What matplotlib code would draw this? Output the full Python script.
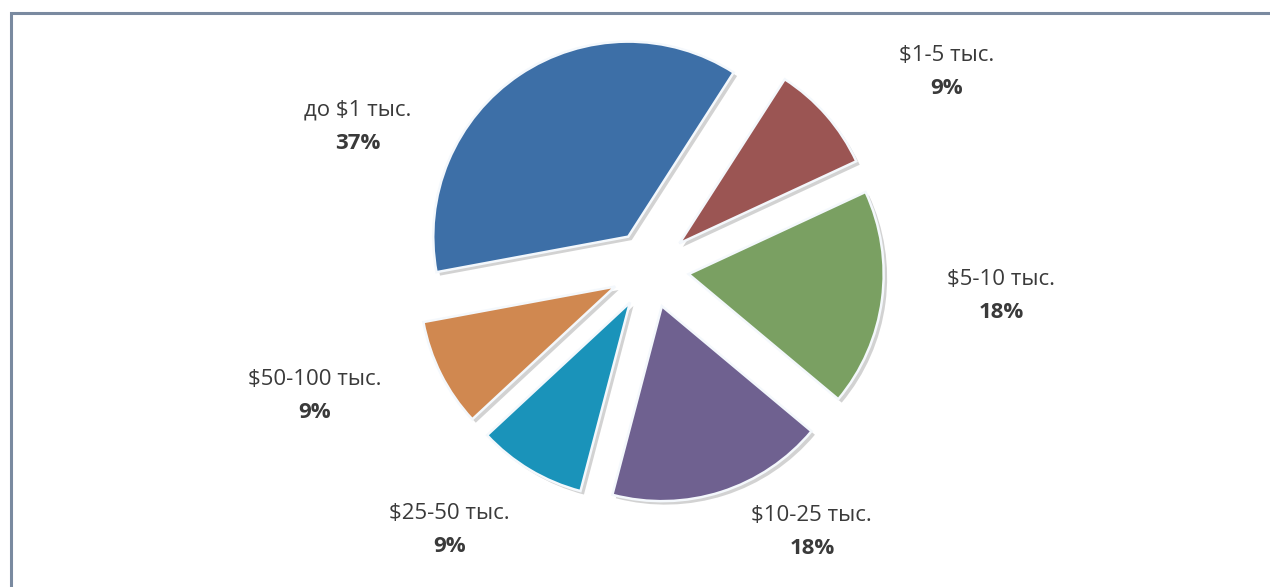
import matplotlib
matplotlib.use("Agg")
import matplotlib.pyplot as plt
import matplotlib.patheffects as pe
from matplotlib.lines import Line2D

plt.rcParams['font.family'] = ['Open Sans', 'DejaVu Sans']

# доля клиентов по сумме
categories = ['до $1 тыс.', '$1-5 тыс.', '$5-10 тыс.', '$10-25 тыс.', '$25-50 тыс.', '$50-100 тыс.']
shares = [37, 9, 18, 18, 9, 9]
colors = ['#3D6FA7', '#9B5553', '#7AA062', '#6F6190', '#1A93BA', '#D08850']

# положение подписей (в радиусах круга)
label_xy = [(-1.50, 0.73), (1.52, 1.01), (1.80, -0.14), (0.83, -1.35), (-1.03, -1.34), (-1.72, -0.65)]

W, H = 1270, 587
cx, cy, R = 650, 269, 195  # центр и радиус круга в пикселях

fig = plt.figure(figsize=(W / 100, H / 100), dpi=100)
ax = fig.add_axes([0, 0, 1, 1])

shadow = [pe.SimplePatchShadow(offset=(2.5, -2.5), shadow_rgbFace='#808080', alpha=0.35), pe.Normal()]
wedges, _ = ax.pie(shares, colors=colors, startangle=190.5, counterclock=False,
                   explode=[0.2] * len(shares), radius=1,
                   wedgeprops=dict(edgecolor='#F4F8FC', linewidth=1.8, path_effects=shadow))

ax.set_aspect('auto')
ax.set_xlim(-cx / R, (W - cx) / R)
ax.set_ylim(-(H - cy) / R, cy / R)
ax.axis('off')

dy = 16.5 / R
for name, val, (x, y) in zip(categories, shares, label_xy):
    ax.text(x, y + dy, name, ha='center', va='center', fontsize=16, color='#3a3a3a')
    ax.text(x, y - dy, f'{val}%', ha='center', va='center', fontsize=16, color='#3a3a3a',
            fontweight='bold')

# рамка диаграммы
fx, fy = 11 / W, 1 - 12.5 / H
fig.add_artist(Line2D([fx, fx, 1.0], [0.0, fy, fy], transform=fig.transFigure,
                      color='#7A8AA0', linewidth=2.2, solid_joinstyle='miter'))

fig.savefig('out.png', dpi=100, facecolor='white')
